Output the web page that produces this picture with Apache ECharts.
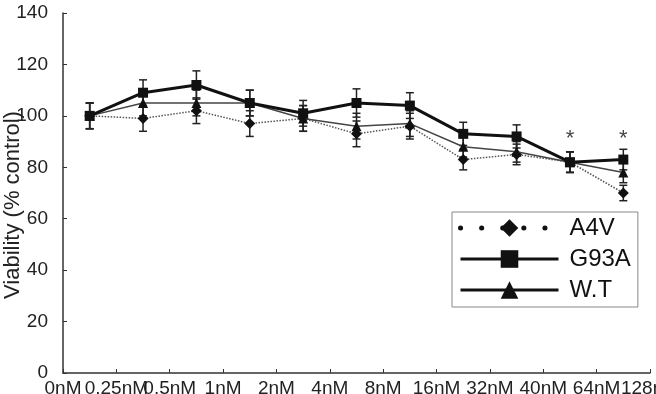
<!DOCTYPE html>
<html>
<head>
<meta charset="utf-8">
<script src="https://cdn.jsdelivr.net/npm/echarts@6/dist/echarts.min.js"></script>
<style>
  html, body { margin: 0; padding: 0; background: #fff; }
  #main { width: 656px; height: 394px; }
</style>
</head>
<body>
<div id="main"></div>
<script>
// tick labels sit on the boundaries, points sit between them
var xLabels = ['0nM', '0.25nM', '0.5nM', '1nM', '2nM', '4nM', '8nM', '16nM', '32nM', '40nM', '64nM', '128nM'];
var a4v  = [100, 99, 102, 97, 99, 93, 96, 83, 85, 82, 70];
var g93a = [100, 109, 112, 105, 101, 105, 104, 93, 92, 82, 83];
var wt   = [100, 105, 105, 105, 99, 96, 97, 88, 86, 82, 78];
var a4vErr  = [5, 5, 5, 5, 5, 5, 5, 4, 4, 4, 3];
var g93aErr = [5, 5, 5.5, 5, 5, 5.5, 5, 4.5, 4.5, 4, 4];
var wtErr   = [5, 5, 5, 5, 5, 5, 5, 4, 4, 4, 4];
var starIdx = [9, 10];
var starY   = [91, 91];

var sans = '"Liberation Sans", Arial, sans-serif';

function pts(vals) {
    return vals.map(function (v, i) { return [i + 0.5, v]; });
}
function errData(vals, errs) {
    return vals.map(function (v, i) { return [i + 0.5, v - errs[i], v + errs[i]]; });
}
function errSeries(name, vals, errs) {
    return {
        name: name,
        type: 'custom',
        silent: true,
        z: 1,
        data: errData(vals, errs),
        renderItem: function (params, api) {
            var lo = api.coord([api.value(0), api.value(1)]);
            var hi = api.coord([api.value(0), api.value(2)]);
            var w = 4;
            var st = { stroke: '#222', lineWidth: 1.5 };
            return {
                type: 'group',
                children: [
                    { type: 'line', shape: { x1: lo[0], y1: lo[1], x2: hi[0], y2: hi[1] }, style: st },
                    { type: 'line', shape: { x1: lo[0] - w, y1: lo[1], x2: lo[0] + w, y2: lo[1] }, style: st },
                    { type: 'line', shape: { x1: hi[0] - w, y1: hi[1], x2: hi[0] + w, y2: hi[1] }, style: st }
                ]
            };
        }
    };
}

var myChart = echarts.init(document.getElementById('main'));
var option = {
    animation: false,
    backgroundColor: '#fff',
    grid: { left: 63, right: 6, top: 13, bottom: 21, containLabel: false, outerBoundsMode: 'none' },
    legend: {
        orient: 'vertical',
        left: 452,
        top: 212,
        padding: [4, 7, 5, 6],
        itemGap: 7,
        itemWidth: 98,
        itemHeight: 22,
        borderColor: '#888',
        borderWidth: 1,
        backgroundColor: '#fff',
        textStyle: { fontFamily: sans, fontSize: 24, color: '#111', lineHeight: 22, padding: [0, 0, 0, 6] },
        data: [
            { name: 'A4V', lineStyle: { type: [0.1, 21], width: 5, cap: 'round', color: '#111' } },
            { name: 'G93A', lineStyle: { width: 3, color: '#111' } },
            { name: 'W.T', lineStyle: { width: 3, color: '#111' } }
        ]
    },
    xAxis: {
        type: 'value',
        min: 0,
        max: 11,
        interval: 1,
        axisLine: { lineStyle: { color: '#333', width: 1.5 } },
        axisTick: { inside: true, length: 4, lineStyle: { color: '#333' } },
        splitLine: { show: false },
        axisLabel: {
            margin: 6,
            fontFamily: sans,
            fontSize: 19,
            color: '#222',
            hideOverlap: false,
            showMinLabel: true,
            showMaxLabel: true,
            formatter: function (v) { return xLabels[Math.round(v)]; }
        }
    },
    yAxis: {
        type: 'value',
        min: 0,
        max: 140,
        interval: 20,
        name: 'Viability (% control)',
        nameLocation: 'middle',
        nameGap: 39,
        nameMoveOverlap: false,
        nameTextStyle: { fontFamily: sans, fontSize: 22, color: '#222', padding: [0, 24, 0, 0] },
        axisLine: { show: true, lineStyle: { color: '#333', width: 1.5 } },
        axisTick: { show: true, inside: true, length: 4, lineStyle: { color: '#333' } },
        splitLine: { show: false },
        axisLabel: { margin: 15, fontFamily: sans, fontSize: 19, color: '#222' }
    },
    series: [
        errSeries('A4V-err', a4v, a4vErr),
        errSeries('W.T-err', wt, wtErr),
        errSeries('G93A-err', g93a, g93aErr),
        {
            name: 'A4V',
            type: 'line',
            data: pts(a4v),
            symbol: 'diamond',
            symbolSize: 11,
            z: 2,
            itemStyle: { color: '#111' },
            lineStyle: { color: '#555', width: 1.5, type: 'dotted' }
        },
        {
            name: 'W.T',
            type: 'line',
            data: pts(wt),
            symbol: 'triangle',
            symbolSize: 10,
            z: 3,
            itemStyle: { color: '#111' },
            lineStyle: { color: '#444', width: 1.5 }
        },
        {
            name: 'G93A',
            type: 'line',
            data: pts(g93a),
            symbol: 'rect',
            symbolSize: 10,
            z: 4,
            itemStyle: { color: '#111' },
            lineStyle: { color: '#111', width: 3 }
        },
        {
            name: 'stars',
            type: 'scatter',
            symbolSize: 1,
            itemStyle: { color: 'rgba(0,0,0,0)' },
            data: starIdx.map(function (i, k) { return [i + 0.5, starY[k]]; }),
            label: {
                show: true,
                position: 'inside',
                formatter: '*',
                fontFamily: sans,
                fontSize: 22,
                color: '#111'
            }
        }
    ]
};
myChart.setOption(option);
</script>
</body>
</html>
